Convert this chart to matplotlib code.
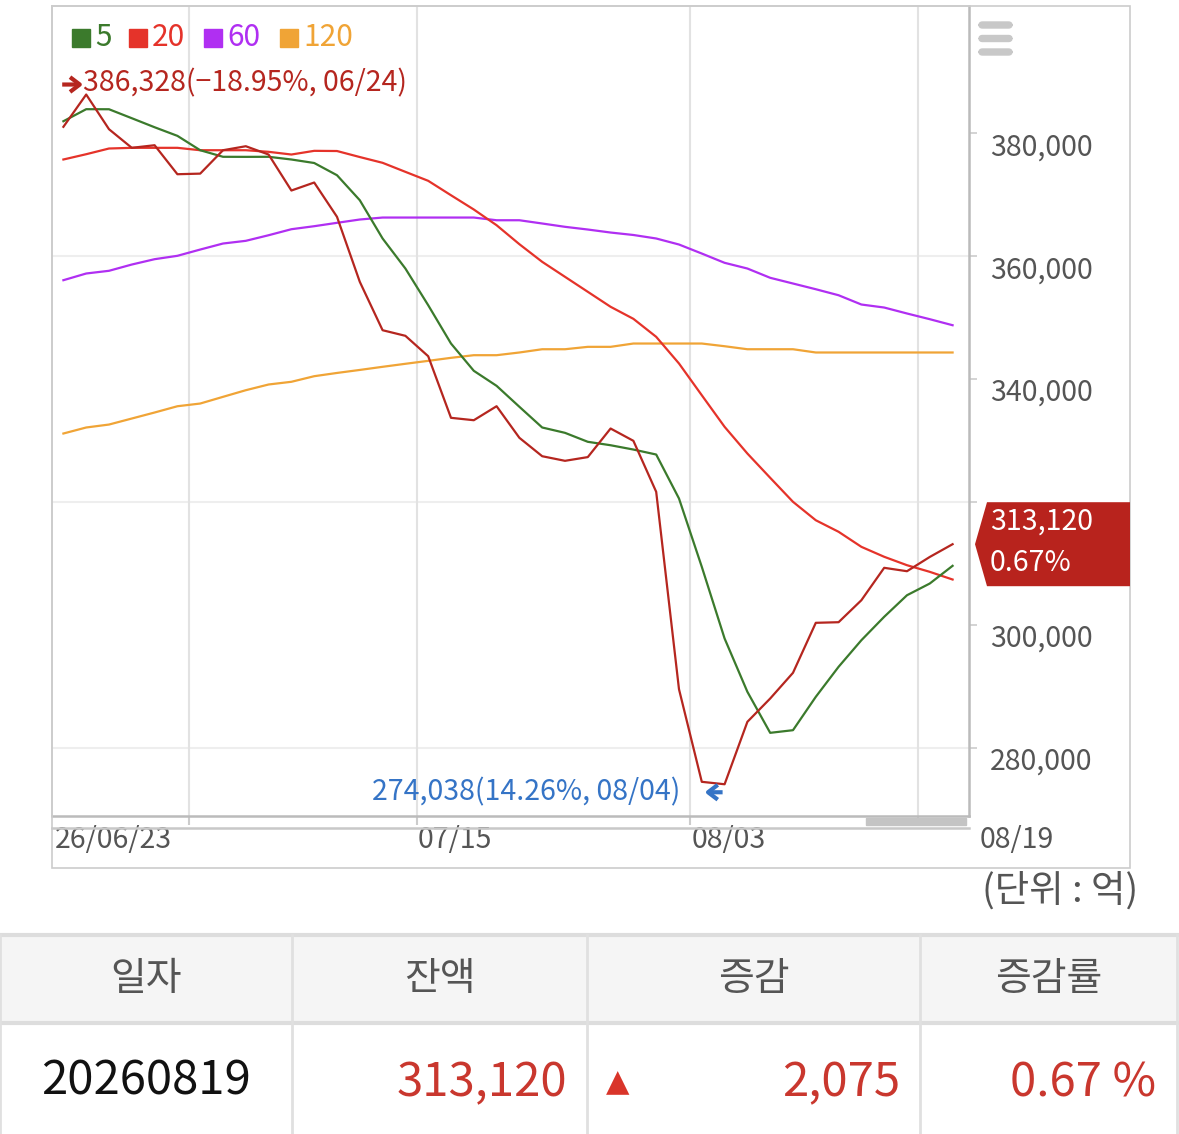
import matplotlib
matplotlib.use('Agg')
import matplotlib.pyplot as plt
from matplotlib.patches import Rectangle, Polygon, FancyBboxPatch
from matplotlib.transforms import offset_copy

plt.rcParams['font.family'] = ['Noto Sans CJK KR', 'DejaVu Sans']

# trading days shown in the chart (2026)
dates = ["06/23", "06/24", "06/25", "06/26", "06/29", "06/30",
         "07/01", "07/02", "07/03", "07/06", "07/07", "07/08", "07/09", "07/10",
         "07/13", "07/14", "07/15", "07/16", "07/20", "07/21", "07/22", "07/23",
         "07/24", "07/27", "07/28", "07/29", "07/30", "07/31",
         "08/03", "08/04", "08/05", "08/06", "08/07", "08/10", "08/11", "08/12",
         "08/13", "08/14", "08/18", "08/19"]

# balance (unit: 억)
balance = [381070, 386328, 380679, 377651, 378074, 373353, 373450, 377260, 377911, 376560,
           370699, 372002, 366418, 355836, 347956, 347044, 343723, 333695, 333304, 335583,
           330439, 327443, 326694, 327300, 331953, 329950, 321648, 289511, 274436, 274038,
           284204, 287997, 292181, 300321, 300420, 304000, 309275, 308721, 311045, 313120]

ma5 = [381980, 383940, 383930, 382470, 381000, 379600, 377260, 376190, 376180, 376190,
       375750, 375180, 373190, 369120, 362890, 358000, 352030, 345790, 341350, 338900,
       335490, 332120, 331250, 329790, 329230, 328530, 327720, 320560, 309440, 297770,
       289090, 282410, 282840, 288270, 293160, 297490, 301300, 304810, 306720, 309600]

ma20 = [375750, 376610, 377540, 377650, 377650, 377650, 377260, 377260, 377260, 377000,
        376560, 377160, 377130, 376150, 375210, 373740, 372280, 369930, 367610, 365050,
        361960, 359090, 356650, 354210, 351770, 349810, 346880, 342540, 337370, 332230,
        327880, 323930, 320020, 317020, 315140, 312690, 311070, 309700, 308620, 307370]

ma60 = [356100, 357190, 357630, 358650, 359520, 360070, 361090, 362070, 362510, 363420,
        364400, 364890, 365440, 365980, 366300, 366300, 366300, 366300, 366300, 365860,
        365860, 365330, 364790, 364350, 363860, 363460, 362890, 361910, 360440, 358930,
        358000, 356490, 355560, 354630, 353650, 352140, 351650, 350680, 349750, 348770]

ma120 = [331140, 332120, 332600, 333580, 334560, 335580, 336020, 337110, 338190, 339120,
         339560, 340470, 341000, 341490, 342000, 342490, 342970, 343460, 343890, 343890,
         344330, 344860, 344860, 345250, 345250, 345790, 345790, 345790, 345790, 345350,
         344860, 344860, 344860, 344330, 344330, 344330, 344330, 344330, 344330, 344330]

ma_labels = ["5", "20", "60", "120"]
ma_colors = ["#3b7a2c", "#e5332a", "#b02ff2", "#f0a436"]
bal_color = "#b5261f"
blue = "#3574c6"

yticks = [280000, 300000, 320000, 340000, 360000, 380000]
ygrid = [280000, 320000, 360000]
xtick_idx = [6, 16, 28, 38]
xlabel_idx = [16, 28]

table_headers = ["일자", "잔액", "증감", "증감률"]

W, H = 1179, 1134
fig = plt.figure(figsize=(W / 100, H / 100), dpi=100)


def fx(x):
    return x / W


def fy(y):
    return 1 - y / H


ax = fig.add_axes([fx(52), fy(816), (969 - 52) / W, (816 - 6) / H])
ax.set_xlim(-0.5, 39.72)
ax.set_ylim(268870, 400740)

x = list(range(len(dates)))
ax.plot(x, ma120, color=ma_colors[3], lw=1.6)
ax.plot(x, ma60, color=ma_colors[2], lw=1.6)
ax.plot(x, ma20, color=ma_colors[1], lw=1.6)
ax.plot(x, ma5, color=ma_colors[0], lw=1.6)
ax.plot(x, balance, color=bal_color, lw=1.6)

for g in ygrid:
    ax.axhline(g, color="#eeeeee", lw=1.5, zorder=0)
for i in xtick_idx:
    ax.axvline(i - 0.5, color="#e2e2e2", lw=1.5, zorder=0)

for s in ["top", "left"]:
    ax.spines[s].set_color("#cccccc")
    ax.spines[s].set_linewidth(1.2)
for s in ["right", "bottom"]:
    ax.spines[s].set_color("#bbbbbb")
    ax.spines[s].set_linewidth(1.8)

ax.set_yticks(yticks)
ax.yaxis.tick_right()
ax.tick_params(axis="y", length=6, width=1.2, color="#cccccc", labelright=False)
ax.set_xticks([i - 0.5 for i in xtick_idx])
ax.tick_params(axis="x", length=6.5, width=1.5, color="#cccccc", labelbottom=False)

last = balance[-1]
yc = H - ax.transData.transform((0, last))[1]

# y labels, set a bit under each tick (the one under the value box is hidden)
for v in yticks:
    ty = H - ax.transData.transform((0, v))[1] + 14
    if abs(ty - yc) < 42:
        continue
    ax.annotate(f"{v:,}", xy=(1, v), xycoords=("axes fraction", "data"),
                xytext=(21, -14), textcoords="offset pixels", ha="left", va="center",
                fontsize=20.5, color="#555555", annotation_clip=False)

# x labels
ax.annotate("26/" + dates[0], xy=(0, 0), xycoords="axes fraction", xytext=(3, -24),
            textcoords="offset pixels", ha="left", va="center", fontsize=20.5,
            color="#555555", annotation_clip=False)
for i in xlabel_idx:
    ax.annotate(dates[i], xy=(i - 0.5, 0), xycoords=("data", "axes fraction"),
                xytext=(1, -24), textcoords="offset pixels", ha="left", va="center",
                fontsize=20.5, color="#555555", annotation_clip=False)
ax.annotate(dates[-1], xy=(1, 0), xycoords="axes fraction", xytext=(11, -24),
            textcoords="offset pixels", ha="left", va="center", fontsize=20.5,
            color="#555555", annotation_clip=False)

# legend
lx = [72, 129, 204, 280]
for lab, c, x0 in zip(ma_labels, ma_colors, lx):
    fig.patches.append(Rectangle((fx(x0), fy(47)), 18 / W, 18 / H, color=c,
                                 transform=fig.transFigure))
    fig.text(fx(x0 + 23), fy(38), lab, color=c, fontsize=21.5, ha="left", va="center")

# max / min annotations
imax = balance.index(max(balance))
imin = balance.index(min(balance))
arrow = dict(arrowstyle="->,head_length=0.5,head_width=0.38", lw=3,
             shrinkA=0, shrinkB=0, mutation_scale=14, capstyle="butt")
ax.annotate("", xy=(imax, balance[imax]),
            xycoords=offset_copy(ax.transData, fig=fig, x=-3, y=10, units="dots"),
            xytext=(-21, 0), textcoords="offset pixels",
            arrowprops=dict(arrow, color=bal_color), annotation_clip=False)
ax.annotate(f"{balance[imax]:,}(−{(balance[imax] - last) / balance[imax] * 100:.2f}%, {dates[imax]})",
            xy=(imax, balance[imax]), xytext=(-3, 11), textcoords="offset pixels",
            ha="left", va="center", fontsize=20.5, color=bal_color, annotation_clip=False)
ax.annotate("", xy=(imin, balance[imin]),
            xycoords=offset_copy(ax.transData, fig=fig, x=-20, y=-8, units="dots"),
            xytext=(18, 0), textcoords="offset pixels",
            arrowprops=dict(arrow, color=blue), annotation_clip=False)
ax.annotate(f"{balance[imin]:,}({(last - balance[imin]) / balance[imin] * 100:.2f}%, {dates[imin]})",
            xy=(imin, balance[imin]), xytext=(-44, -8), textcoords="offset pixels",
            ha="right", va="center", fontsize=20.5, color=blue, annotation_clip=False)

# last value box on the right axis
box = Polygon([(fx(975), fy(yc)), (fx(987), fy(yc - 42)), (fx(1130), fy(yc - 42)),
               (fx(1130), fy(yc + 42)), (fx(987), fy(yc + 42))], closed=True,
              facecolor="#b8231d", edgecolor="none", transform=fig.transFigure, zorder=5)
fig.patches.append(box)
pct = (balance[-1] - balance[-2]) / balance[-2] * 100
fig.text(fx(990), fy(yc - 23), f"{last:,}", color="white", fontsize=20.5, ha="left",
         va="center", zorder=6)
fig.text(fx(990), fy(yc + 19), f"{pct:.2f}%", color="white", fontsize=20.5, ha="left",
         va="center", zorder=6)

# outer frame, scroll track, menu icon
fig.patches.append(Rectangle((fx(52), fy(868)), (1130 - 52) / W, (868 - 6) / H,
                             fill=False, edgecolor="#cccccc", lw=1.2,
                             transform=fig.transFigure))
fig.lines.append(plt.Line2D([fx(52), fx(969)], [fy(828), fy(828)], color="#c8c8c8",
                            lw=1.8, transform=fig.transFigure))
fig.patches.append(Rectangle((fx(866), fy(825)), 100 / W, 7 / H, color="#c4c4c4",
                             transform=fig.transFigure))
for yb in [22, 35.5, 49]:
    fig.patches.append(FancyBboxPatch((fx(979), fy(yb + 6)), 33 / W, 6 / H,
                                      boxstyle="round,pad=0,rounding_size=0.003",
                                      color="#c8c8c8", transform=fig.transFigure))

fig.text(fx(1138), fy(891), "(단위 : 억)", fontsize=27, color="#555555",
         ha="right", va="center")

# table below the chart
cols = [0, 292, 587, 920, 1177]
fig.patches.append(Rectangle((0, fy(1023)), fx(1177), (1023 - 935) / H,
                             facecolor="#f5f5f5", edgecolor="none",
                             transform=fig.transFigure))
for yl in [935, 1023]:
    fig.lines.append(plt.Line2D([0, fx(1177)], [fy(yl), fy(yl)], color="#dddddd",
                                lw=3, transform=fig.transFigure))
for xc in cols:
    fig.lines.append(plt.Line2D([fx(xc), fx(xc)], [fy(935), 0], color="#e0e0e0",
                                lw=2, transform=fig.transFigure))
for i, h in enumerate(table_headers):
    fig.text(fx((cols[i] + cols[i + 1]) / 2), fy(979), h, fontsize=28,
             color="#555555", ha="center", va="center")

diff = balance[-1] - balance[-2]
red = "#c9372e"
fig.text(fx(146), fy(1081), "2026" + dates[-1].replace("/", ""), fontsize=34,
         color="#111111", ha="center", va="center")
fig.text(fx(567), fy(1083), f"{last:,}", fontsize=34, color=red, ha="right", va="center")
fig.text(fx(618), fy(1083), "▲", fontsize=22, color="#d9352a", ha="center", va="center",
         family="DejaVu Sans")
fig.text(fx(900), fy(1083), f"{diff:,}", fontsize=34, color=red, ha="right", va="center")
fig.text(fx(1156), fy(1083), f"{pct:.2f} %", fontsize=34, color=red, ha="right", va="center")

fig.savefig("out.png", dpi=100)
